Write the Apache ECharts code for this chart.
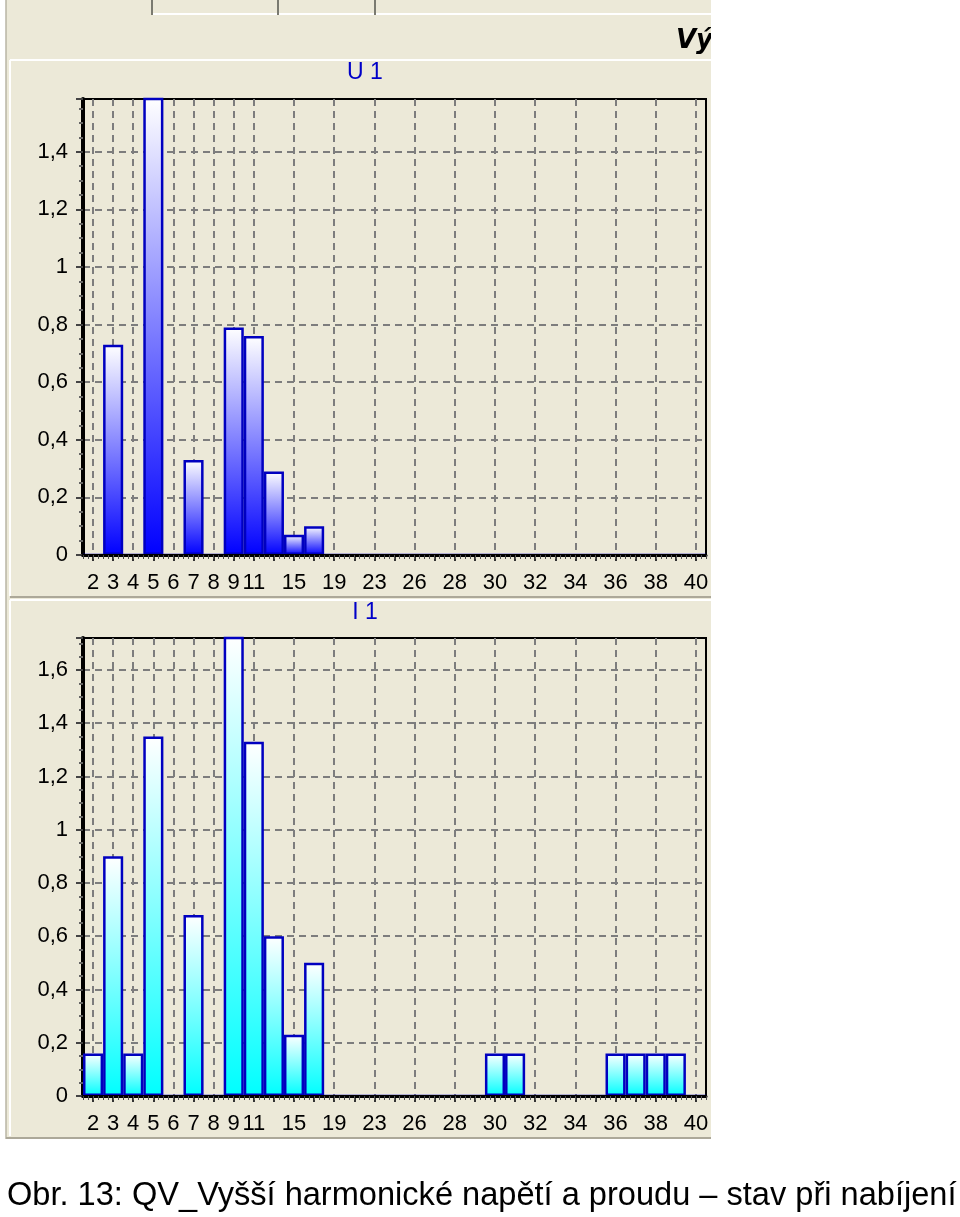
<!DOCTYPE html>
<html><head><meta charset="utf-8">
<script src="https://cdn.jsdelivr.net/npm/echarts@6/dist/echarts.min.js"></script>
<style>html,body{margin:0;padding:0;background:#fff}#c{width:960px;height:1217px}</style>
</head><body><div id="c"></div>
<script>
// Harmonic orders shown on the x axis (31 categories)
const categories = ['2','3','4','5','6','7','8','9','11','13','15','17','19','21','23','25','26','27','28','29','30','31','32','33','34','35','36','37','38','39','40'];
// U1 voltage harmonics (%)
const u1Values = [0,0.73,0,1.6,0,0.33,0,0.79,0.76,0.29,0.07,0.10,0,0,0,0,0,0,0,0,0,0,0,0,0,0,0,0,0,0,0];
// I1 current harmonics (%)
const i1Values = [0.16,0.90,0.16,1.35,0,0.68,0,1.75,1.33,0.60,0.23,0.50,0,0,0,0,0,0,0,0,0.16,0.16,0,0,0,0,0.16,0.16,0.16,0.16,0];
const titles = ['U1','I1'];
const yMax = [1.583, 1.72];
const yStep = 0.2;
const caption = 'Obr. 13: QV_Vyšší harmonické napětí a proudu – stav při nabíjení';

const FONT = 'Liberation Sans';
const showIdx = (i) => i <= 8 || i % 2 === 0;
const yFmt = (v) => {
  const r = v / yStep;
  if (Math.abs(r - Math.round(r)) > 1e-6) return '';
  return String(+v.toFixed(1)).replace('.', ',');
};
const grids = [
  {left: 83, right: 254, top: 99, height: 456},
  {left: 83, right: 254, top: 638, height: 458}
];
const dash = {color: '#7d7d7d', width: 2, type: [7, 5]};

const xAxes = [], yAxes = [], series = [];
grids.forEach((g, k) => {
  xAxes.push({
    type: 'category', gridIndex: k, data: categories, boundaryGap: true,
    axisLine: {show: false},
    axisTick: {show: true, alignWithLabel: true, interval: 0, length: 6, lineStyle: {color: '#333', width: 2}},
    axisLabel: {interval: (i) => showIdx(i), color: '#000', fontFamily: FONT, fontSize: 22, margin: 17},
    splitLine: {show: true, alignWithLabel: true, interval: (i) => showIdx(i), lineStyle: dash}
  });
  xAxes.push({
    type: 'value', gridIndex: k, min: 0, max: categories.length, interval: 1, position: 'bottom', z: 5,
    axisLine: {show: true, lineStyle: {color: '#000', width: 3}},
    axisTick: {show: true, length: 4, lineStyle: {color: '#444', width: 1}},
    minorTick: {show: true, splitNumber: 4, length: 4, lineStyle: {color: '#555', width: 1}},
    axisLabel: {show: false}, splitLine: {show: false}
  });
  yAxes.push({
    type: 'value', gridIndex: k, min: 0, max: yMax[k], interval: yStep,
    axisLine: {show: true, lineStyle: {color: '#000', width: 4}},
    axisTick: {show: true, length: 7, lineStyle: {color: '#444', width: 2}},
    minorTick: {show: true, splitNumber: 4, length: 4, lineStyle: {color: '#666', width: 2}},
    axisLabel: {formatter: yFmt, showMaxLabel: false, color: '#000', fontFamily: FONT, fontSize: 22, margin: 15},
    splitLine: {show: true, showMaxLine: false, showMinLine: false, lineStyle: dash}
  });
});

const grad = (c) => new echarts.graphic.LinearGradient(0, 0, 0, 1, [
  {offset: 0, color: '#ffffff'}, {offset: 1, color: c}
]);
[[u1Values, '#0000ff'], [i1Values, '#00ffff']].forEach(([vals, c], k) => {
  series.push({
    type: 'bar', xAxisIndex: k * 2, yAxisIndex: k, data: vals,
    barCategoryGap: '0%', clip: true, z: 2,
    itemStyle: {color: grad(c), borderColor: '#0000c0', borderWidth: 2.5},
    emphasis: {disabled: true}, animation: false
  });
});

const BEIGE = '#ece9d8';
const graphic = [
  {type: 'rect', shape: {x: 6, y: 0, width: 706, height: 1139}, style: {fill: BEIGE}, z: -10},
  {type: 'line', shape: {x1: 6, y1: 0, x2: 6, y2: 1139}, style: {stroke: '#b8b4a4', lineWidth: 1.5}, z: -9},
  {type: 'line', shape: {x1: 6, y1: 1138, x2: 712, y2: 1138}, style: {stroke: '#aca899', lineWidth: 2}, z: -9},
  // top tab strip
  {type: 'line', shape: {x1: 152, y1: 14, x2: 712, y2: 14}, style: {stroke: '#ffffff', lineWidth: 2}, z: -9},
  {type: 'line', shape: {x1: 152, y1: 0, x2: 152, y2: 15}, style: {stroke: '#7a7a70', lineWidth: 2}, z: -9},
  {type: 'line', shape: {x1: 278, y1: 0, x2: 278, y2: 15}, style: {stroke: '#7a7a70', lineWidth: 2}, z: -9},
  {type: 'line', shape: {x1: 375, y1: 0, x2: 375, y2: 15}, style: {stroke: '#7a7a70', lineWidth: 2}, z: -9},
  {type: 'text', left: 676, top: 28, style: {text: 'Vý', font: 'italic bold 26px "DejaVu Sans"', fill: '#000'}, z: -8},
  // panel borders
  {type: 'line', shape: {x1: 10, y1: 60, x2: 712, y2: 60}, style: {stroke: '#ffffff', lineWidth: 2}, z: -9},
  {type: 'line', shape: {x1: 10, y1: 60, x2: 10, y2: 596}, style: {stroke: '#ffffff', lineWidth: 2}, z: -9},
  {type: 'line', shape: {x1: 10, y1: 597, x2: 712, y2: 597}, style: {stroke: '#aca899', lineWidth: 2}, z: -9},
  {type: 'line', shape: {x1: 10, y1: 600, x2: 712, y2: 600}, style: {stroke: '#ffffff', lineWidth: 2}, z: -9},
  {type: 'line', shape: {x1: 10, y1: 600, x2: 10, y2: 1136}, style: {stroke: '#ffffff', lineWidth: 2}, z: -9},
  // titles
  {type: 'text', x: 365, y: 73, style: {text: titles[0].split('').join(' '), font: '23px "Liberation Sans"', fill: '#0000c8', align: 'center', verticalAlign: 'middle'}},
  {type: 'text', x: 365, y: 613, style: {text: titles[1].split('').join(' '), font: '23px "Liberation Sans"', fill: '#0000c8', align: 'center', verticalAlign: 'middle'}},
  // cut-off at right edge of screenshot
  {type: 'rect', shape: {x: 711, y: 0, width: 249, height: 1140}, style: {fill: '#ffffff'}, z: 100},
  // caption
  {type: 'text', x: 7, y: 1196, style: {text: caption, font: '32.6px "Liberation Sans"', fill: '#000', align: 'left', verticalAlign: 'middle'}, z: 101}
];

const chart = echarts.init(document.getElementById('c'), null, {renderer: 'canvas'});
chart.setOption({
  animation: false,
  backgroundColor: '#ffffff',
  grid: grids.map(g => Object.assign({show: true, borderColor: '#000', borderWidth: 2, backgroundColor: 'transparent'}, g)),
  xAxis: xAxes, yAxis: yAxes, series: series, graphic: graphic
});
</script></body></html>
